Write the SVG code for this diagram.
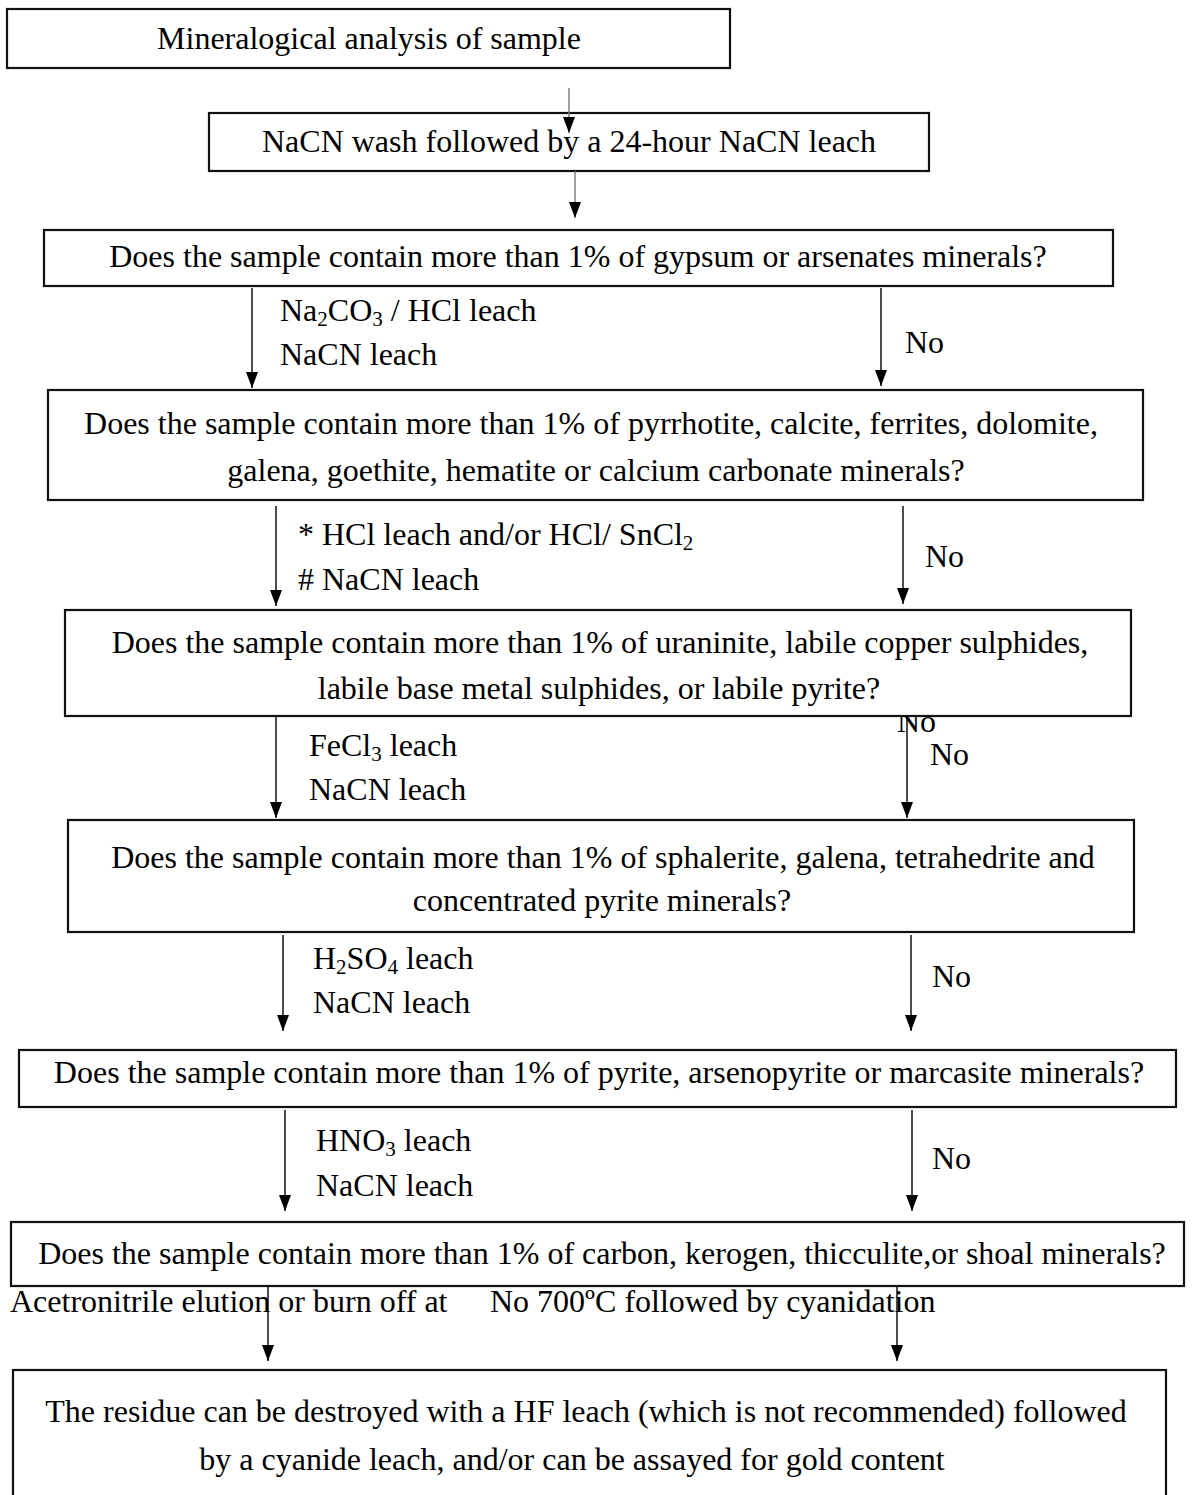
<svg xmlns="http://www.w3.org/2000/svg" width="1199" height="1495" viewBox="0 0 1199 1495">
<style>
text{font-family:"Liberation Serif","Times New Roman",serif;font-size:32px;fill:#000}
.c{text-anchor:middle}
.box{fill:#fff;stroke:#111;stroke-width:2.2}
.ar{stroke:#000;stroke-width:1.4;fill:none;marker-end:url(#ah)}
.g{stroke:#777}
.sub{font-size:21px}
</style>
<defs>
<marker id="ah" markerUnits="userSpaceOnUse" markerWidth="16" markerHeight="12" refX="16" refY="6" orient="auto">
<path d="M0,0 L16,6 L0,12 z" fill="#000"/>
</marker>
</defs>
<rect width="1199" height="1495" fill="#fff"/>
<text x="897" y="732">No</text>
<g id="n1"><rect class="box" x="7" y="9" width="723" height="59"/><text class="c" x="369" y="49">Mineralogical analysis of sample</text></g>
<g id="n2"><rect class="box" x="209" y="113" width="720" height="58"/><text class="c" x="569" y="152">NaCN wash followed by a 24-hour NaCN leach</text></g>
<g id="n3"><rect class="box" x="44" y="230" width="1069" height="56"/><text class="c" x="578" y="267">Does the sample contain more than 1% of gypsum or arsenates minerals?</text></g>
<g id="n4"><rect class="box" x="48" y="390" width="1095" height="110"/><text class="c" x="591" y="434">Does the sample contain more than 1% of pyrrhotite, calcite, ferrites, dolomite,</text><text class="c" x="596" y="481">galena, goethite, hematite or calcium carbonate minerals?</text></g>
<g id="n5"><rect class="box" x="65" y="610" width="1066" height="106"/><text class="c" x="600" y="653">Does the sample contain more than 1% of uraninite, labile copper sulphides,</text><text class="c" x="599" y="699">labile base metal sulphides, or labile pyrite?</text></g>
<g id="n6"><rect class="box" x="68" y="820" width="1066" height="112"/><text class="c" x="603" y="868">Does the sample contain more than 1% of sphalerite, galena, tetrahedrite and</text><text class="c" x="602" y="911">concentrated pyrite minerals?</text></g>
<g id="n7"><rect class="box" x="19" y="1050" width="1157" height="57"/><text class="c" x="599" y="1083">Does the sample contain more than 1% of pyrite, arsenopyrite or marcasite minerals?</text></g>
<g id="n8"><rect class="box" x="11" y="1222" width="1173" height="64"/><text class="c" x="602" y="1264">Does the sample contain more than 1% of carbon, kerogen, thicculite,or shoal minerals?</text></g>
<g id="n9"><rect class="box" x="13" y="1370" width="1153" height="135"/><text class="c" x="586" y="1422">The residue can be destroyed with a HF leach (which is not recommended) followed</text><text class="c" x="572" y="1470">by a cyanide leach, and/or can be assayed for gold content</text></g>
<g id="connectors">
<line class="ar g" x1="569" y1="88" x2="569" y2="133"/>
<line class="ar g" x1="575" y1="171" x2="575" y2="218"/>
<line class="ar" x1="252" y1="288" x2="252" y2="388"/>
<line class="ar" x1="881" y1="288" x2="881" y2="386"/>
<line class="ar" x1="276" y1="506" x2="276" y2="606"/>
<line class="ar" x1="903" y1="506" x2="903" y2="604"/>
<line class="ar" x1="276" y1="716" x2="276" y2="818"/>
<line class="ar" x1="907" y1="716" x2="907" y2="818"/>
<line class="ar" x1="283" y1="935" x2="283" y2="1031"/>
<line class="ar" x1="911" y1="935" x2="911" y2="1031"/>
<line class="ar" x1="285" y1="1110" x2="285" y2="1211"/>
<line class="ar" x1="912" y1="1110" x2="912" y2="1211"/>
<line class="ar" x1="268" y1="1287" x2="268" y2="1361"/>
<line class="ar" x1="897" y1="1287" x2="897" y2="1361"/>
</g>
<g id="labels">
<text x="280" y="321">Na<tspan class="sub" dy="5">2</tspan><tspan dy="-5">CO</tspan><tspan class="sub" dy="5">3</tspan><tspan dy="-5"> / HCl leach</tspan></text>
<text x="280" y="365">NaCN leach</text>
<text x="905" y="353">No</text>
<text x="298" y="545">* HCl leach and/or HCl/ SnCl<tspan class="sub" dy="5">2</tspan></text>
<text x="298" y="590"># NaCN leach</text>
<text x="925" y="567">No</text>
<text x="309" y="756">FeCl<tspan class="sub" dy="5">3</tspan><tspan dy="-5"> leach</tspan></text>
<text x="309" y="800">NaCN leach</text>
<text x="930" y="765">No</text>
<text x="313" y="969">H<tspan class="sub" dy="5">2</tspan><tspan dy="-5">SO</tspan><tspan class="sub" dy="5">4</tspan><tspan dy="-5"> leach</tspan></text>
<text x="313" y="1013">NaCN leach</text>
<text x="932" y="987">No</text>
<text x="316" y="1151">HNO<tspan class="sub" dy="5">3</tspan><tspan dy="-5"> leach</tspan></text>
<text x="316" y="1196">NaCN leach</text>
<text x="932" y="1169">No</text>
<text x="10" y="1312">Acetronitrile elution or burn off at</text>
<text x="490" y="1312">No 700ºC followed by cyanidation</text>
</g>
</svg>
